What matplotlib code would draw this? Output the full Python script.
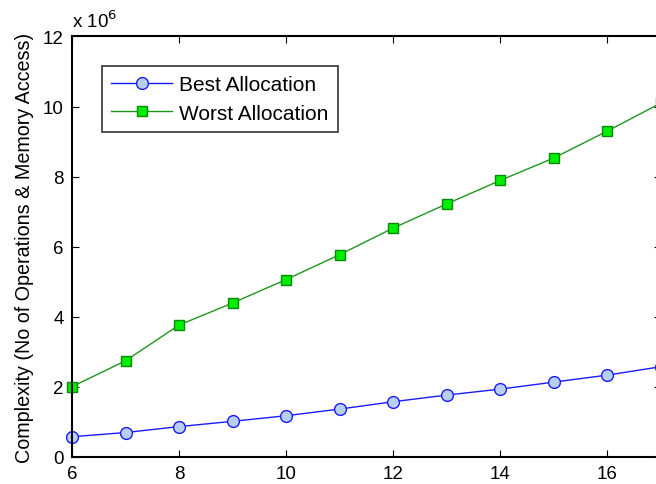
import matplotlib
matplotlib.use("Agg")
import matplotlib.pyplot as plt
from matplotlib.ticker import FuncFormatter

plt.rcParams['font.family'] = ['Liberation Sans', 'DejaVu Sans']

# Problem size (x) and complexity counts for each allocation strategy
sizes = [6, 7, 8, 9, 10, 11, 12, 13, 14, 15, 16, 17]
best_alloc = [0.57e6, 0.69e6, 0.86e6, 1.01e6, 1.17e6, 1.36e6, 1.57e6,
              1.76e6, 1.93e6, 2.13e6, 2.33e6, 2.57e6]
worst_alloc = [2.00e6, 2.74e6, 3.76e6, 4.39e6, 5.06e6, 5.77e6, 6.53e6,
               7.22e6, 7.89e6, 8.53e6, 9.30e6, 10.10e6]
series_labels = ["Best Allocation", "Worst Allocation"]
x_ticks = [6, 8, 10, 12, 14, 16]
y_ticks = [0, 2e6, 4e6, 6e6, 8e6, 10e6, 12e6]
y_label = "Complexity (No of Operations & Memory Access)"

fig = plt.figure(figsize=(6.56, 4.85), dpi=100)
ax = fig.add_axes([0.1098, 0.0563, 0.8977, 0.8664])

ax.plot(sizes, best_alloc, '-o', color='#1a1aff', lw=1.0,
        markerfacecolor='#b8d0f0', markeredgecolor='#1a1aff',
        markeredgewidth=1.0, markersize=8.5, label=series_labels[0], clip_on=False)
ax.plot(sizes, worst_alloc, '-s', color='#1e961e', lw=1.0,
        markerfacecolor='#00ee00', markeredgecolor='#0a8a0a',
        markeredgewidth=1.0, markersize=7.5, label=series_labels[1], clip_on=False)

ax.set_xlim(6, 17)
ax.set_ylim(0, 12e6)
ax.set_xticks(x_ticks)
ax.set_yticks(y_ticks)
ax.yaxis.set_major_formatter(FuncFormatter(lambda v, p: f"{v/1e6:g}"))
ax.tick_params(direction='in', length=5, width=0.8, top=True, right=True,
               labelsize=13.5, pad=6)
for s in ax.spines.values():
    s.set_linewidth(1.5)

ax.set_ylabel(y_label, fontsize=14.2, labelpad=6)
ax.text(0.0, 1.012, r"x 10$^{6}$", transform=ax.transAxes, fontsize=13.5,
        ha='left', va='bottom')

leg = ax.legend(loc='upper left', bbox_to_anchor=(0.051, 0.930), fontsize=15,
                frameon=True, fancybox=False, edgecolor='black',
                borderaxespad=0, handlelength=2.9, borderpad=0.45,
                labelspacing=0.45, handletextpad=0.35)
leg.get_frame().set_linewidth(1.2)

fig.savefig("out.png", dpi=100)
